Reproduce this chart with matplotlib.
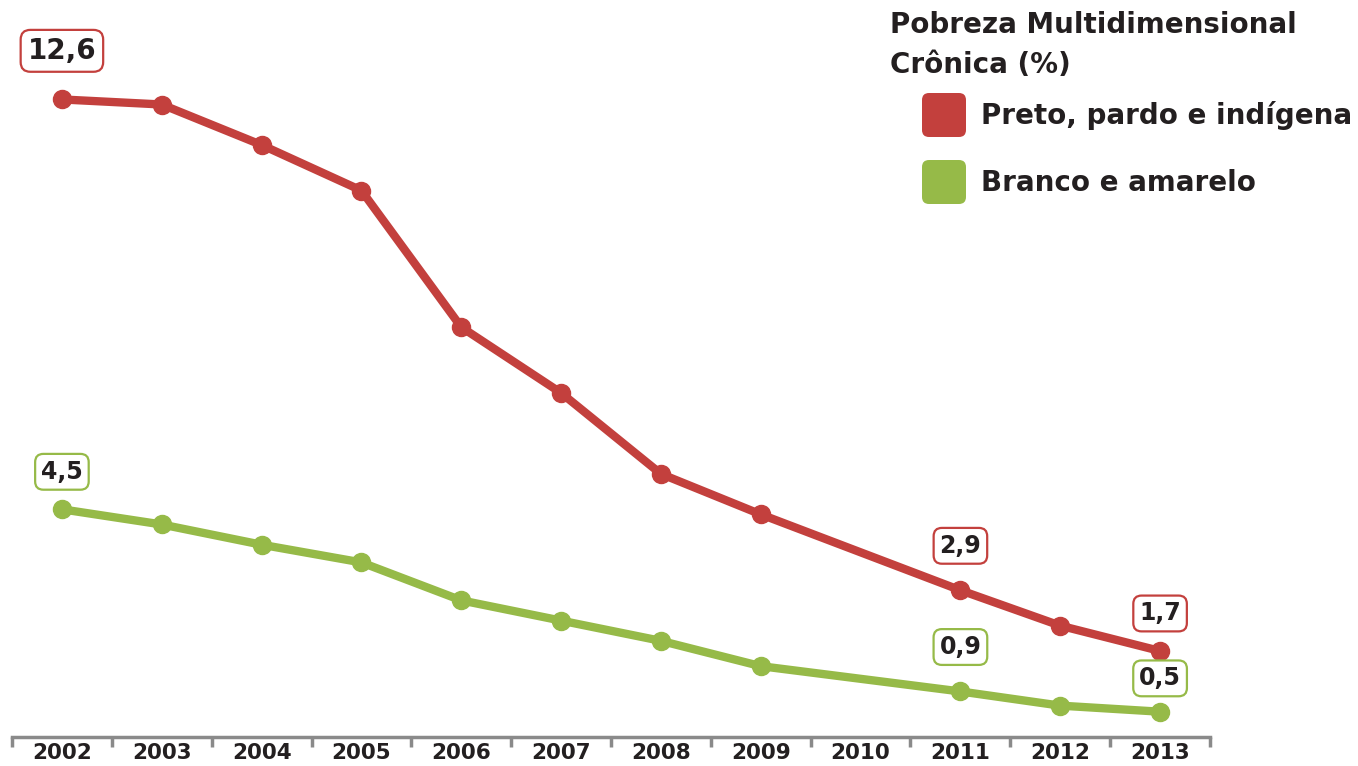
import matplotlib
matplotlib.use("Agg")
import matplotlib.pyplot as plt
from matplotlib.patches import FancyBboxPatch
import numpy as np

# ---- data ----
years = ["2002", "2003", "2004", "2005", "2006", "2007", "2008", "2009", "2010", "2011", "2012", "2013"]
preto_pardo_indigena = [12.6, 12.5, 11.7, 10.8, 8.1, 6.8, 5.2, 4.4, None, 2.9, 2.2, 1.7]
branco_amarelo = [4.5, 4.2, 3.8, 3.45, 2.7, 2.3, 1.9, 1.4, None, 0.9, 0.62, 0.5]
series_names = ["Preto, pardo e indígena", "Branco e amarelo"]
legend_title = "Pobreza Multidimensional\nCrônica (%)"
# labelled points: (series index, year)
labelled = [(0, "2002"), (0, "2011"), (0, "2013"), (1, "2002"), (1, "2011"), (1, "2013")]

RED = "#C3403D"
GREEN = "#96BA48"
colors = [RED, GREEN]
FONT = "DejaVu Sans"
TXT = "#231f20"

W, H, DPI = 1358, 766, 100
fig = plt.figure(figsize=(W / DPI, H / DPI), dpi=DPI)
ax = fig.add_axes([12 / W, (H - 737) / H, 1198 / W, 737 / H])
ax.set_xlim(-0.5, len(years) - 0.5)
ax.set_ylim(0, 737 / 50.6)

all_series = [preto_pardo_indigena, branco_amarelo]
for vals, col in zip(all_series, colors):
    xs = [i for i, v in enumerate(vals) if v is not None]
    ys = [v for v in vals if v is not None]
    ax.plot(xs, ys, color=col, lw=6, marker="o", ms=13, solid_capstyle="round",
            solid_joinstyle="round", zorder=3, clip_on=False)

offsets = {(0, "2002"): 35, (0, "2011"): 32, (0, "2013"): 27,
           (1, "2002"): 27, (1, "2011"): 32, (1, "2013"): 24}
for si, yr in labelled:
    i = years.index(yr)
    v = all_series[si][i]
    txt = f"{v:.1f}".replace(".", ",")
    size = 20 if (si == 0 and yr == "2002") else 17
    ax.annotate(txt, (i, v), xytext=(0, offsets[(si, yr)]), textcoords="offset points",
                ha="center", va="center", fontsize=size, fontweight="bold",
                family=FONT, color=TXT,
                bbox=dict(boxstyle="round,pad=0.25,rounding_size=0.35", fc="white",
                          ec=colors[si], lw=1.6), zorder=5)

# axis styling
for s in ["top", "right", "left"]:
    ax.spines[s].set_visible(False)
ax.spines["bottom"].set_color("#8a8a8a")
ax.spines["bottom"].set_linewidth(2.5)
ax.set_yticks([])
ax.set_xticks(np.arange(-0.5, len(years), 1.0))
ax.set_xticklabels([])
ax.tick_params(axis="x", which="major", length=7, width=2.5, color="#8a8a8a", direction="out")
ax.set_xticks(np.arange(len(years)), minor=True)
ax.set_xticklabels(years, minor=True, fontsize=15.5, fontweight="bold", family=FONT, color=TXT)
ax.tick_params(axis="x", which="minor", length=0, pad=4)

# legend (manual)
fig.text(890 / W, 1 - 11 / H, legend_title, ha="left", va="top", fontsize=20,
         fontweight="bold", family=FONT, color=TXT, linespacing=1.55)
for k, (name, col) in enumerate(zip(series_names, colors)):
    top = 93 + k * 67
    patch = FancyBboxPatch((922 + 5, H - top - 44 + 5), 34, 34,
                           boxstyle="round,pad=5,rounding_size=7",
                           transform=None, fc=col, ec="none")
    fig.add_artist(patch)
    fig.text(981 / W, 1 - (top + 23) / H, name, ha="left", va="center", fontsize=20,
             fontweight="bold", family=FONT, color=TXT)

fig.savefig("out.png", dpi=DPI)
